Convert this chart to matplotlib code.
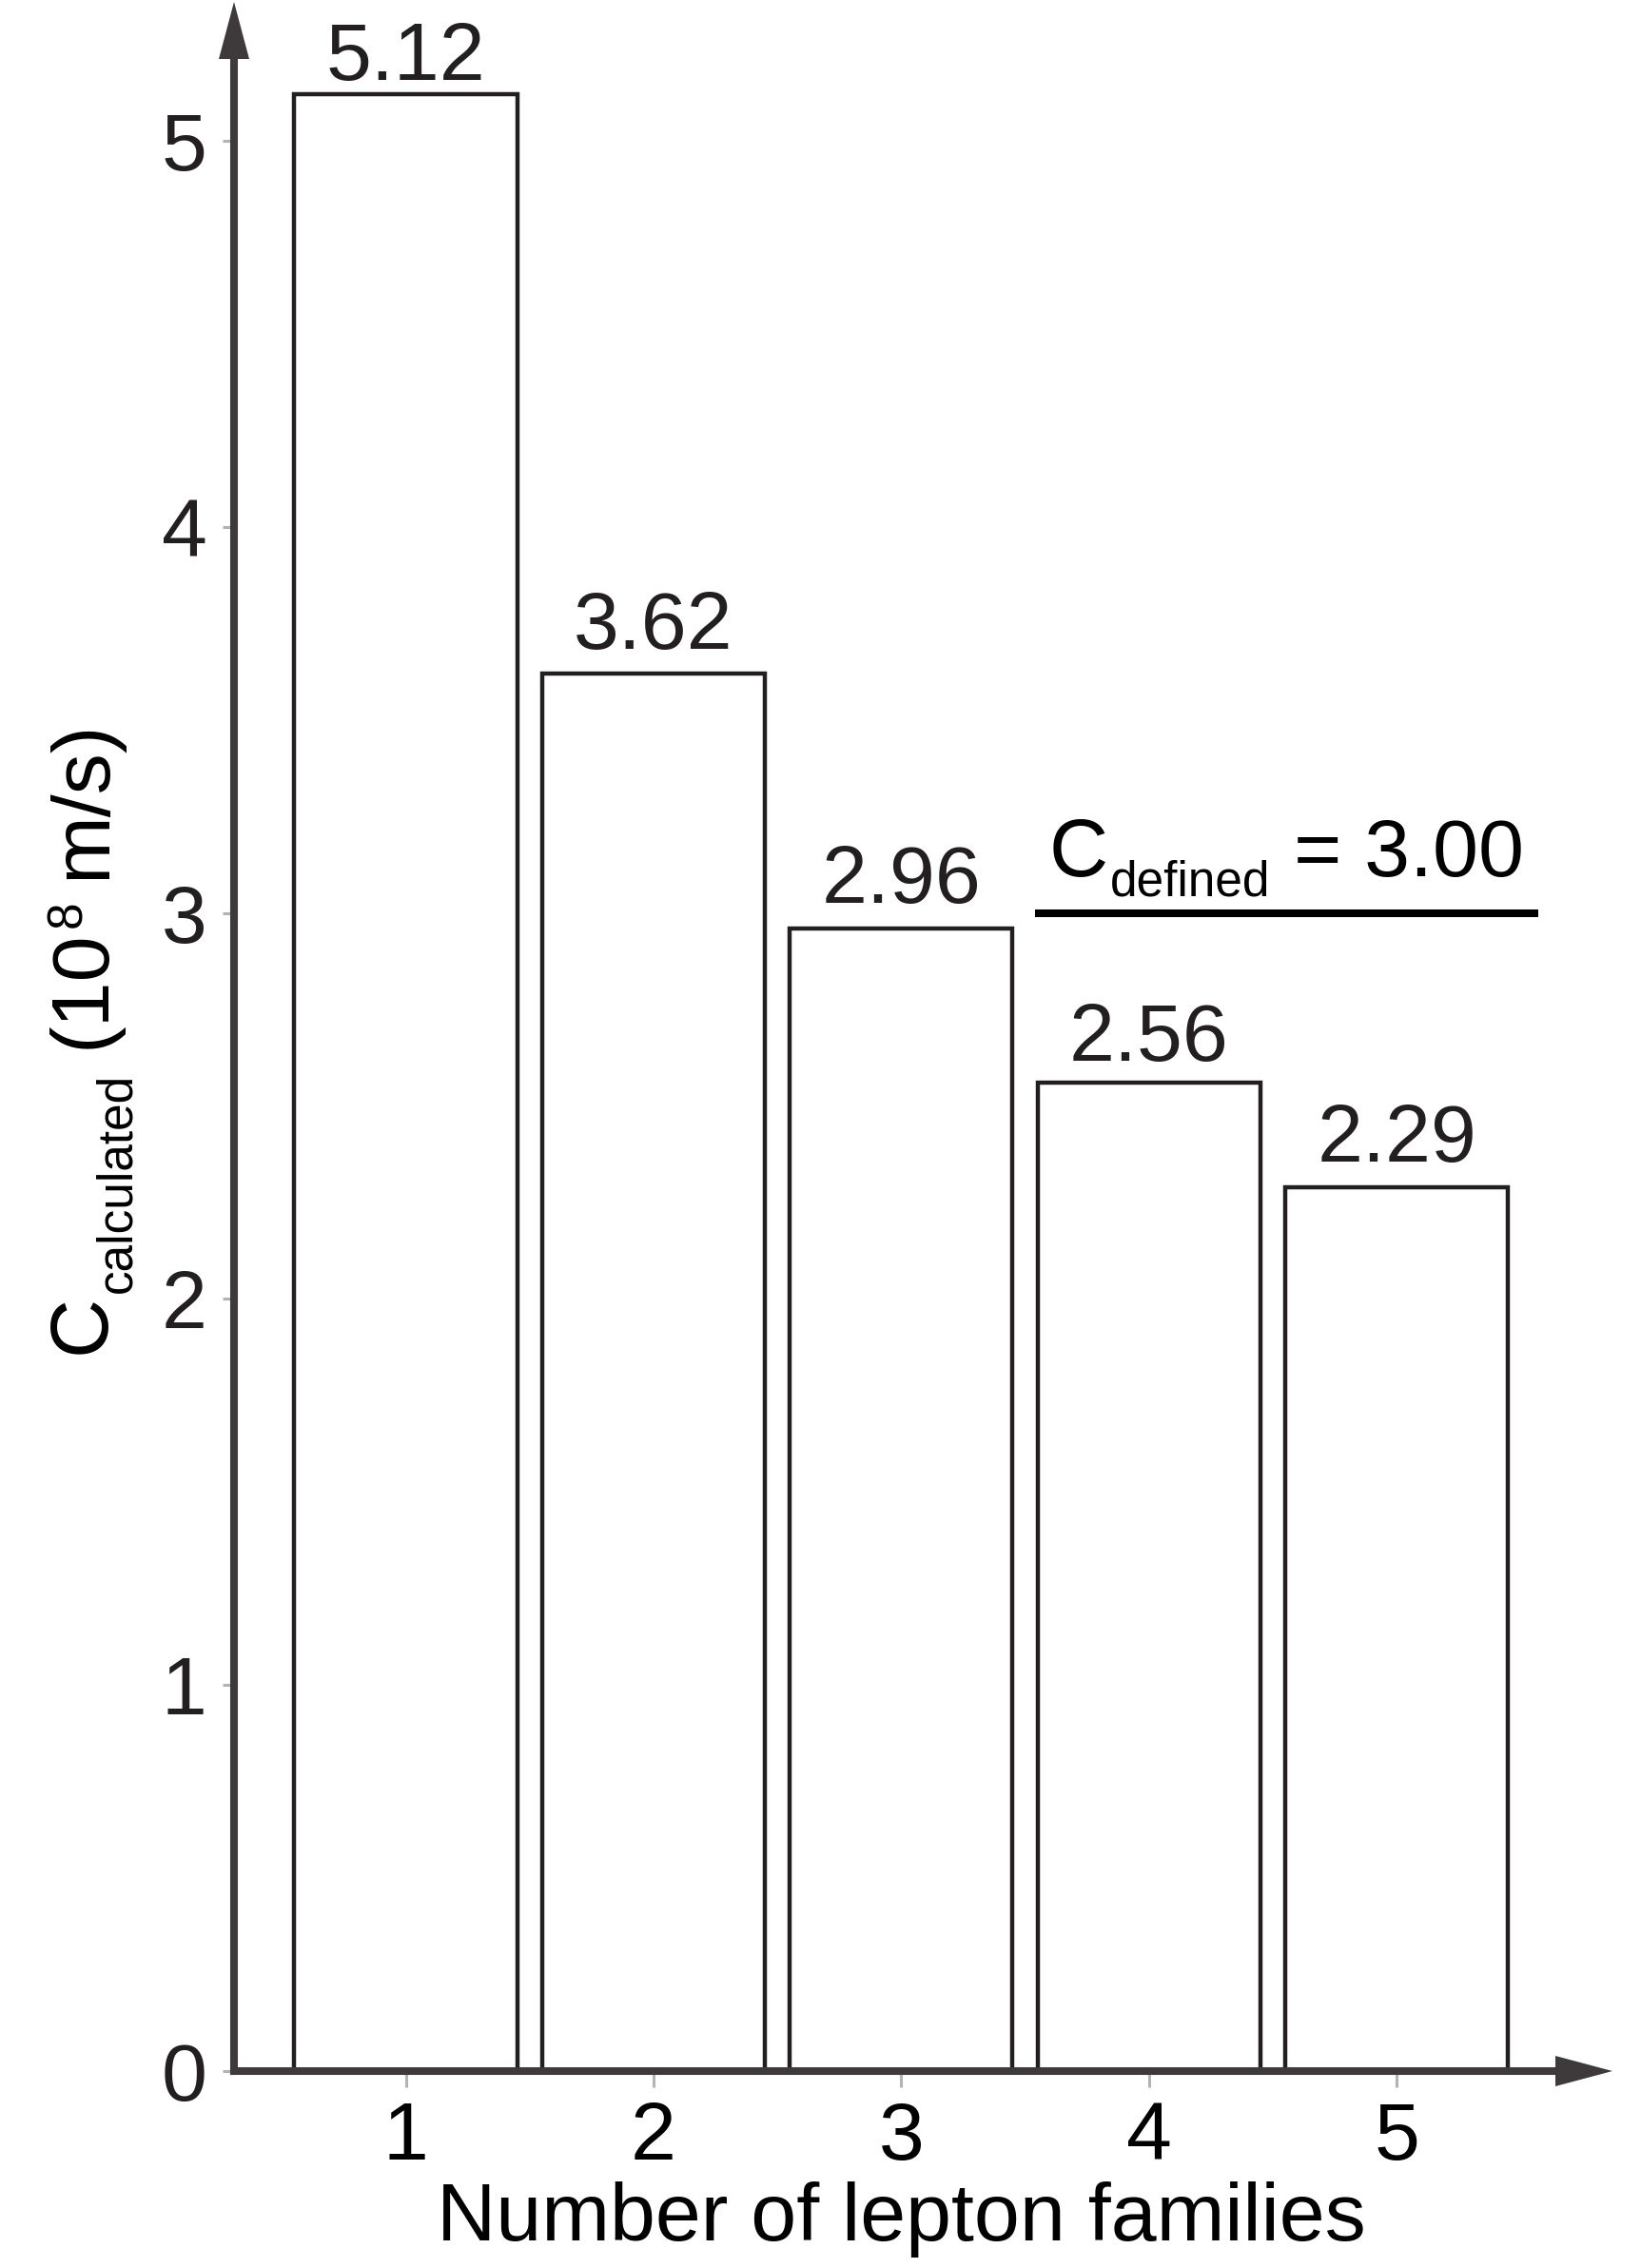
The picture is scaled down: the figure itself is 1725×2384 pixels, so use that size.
import matplotlib
matplotlib.use("Agg")
import matplotlib.pyplot as plt

# ---------------- data ----------------
families = [1, 2, 3, 4, 5]
c_calculated = [5.12, 3.62, 2.96, 2.56, 2.29]
c_defined = 3.00
y_ticks = [0, 1, 2, 3, 4, 5]
x_label = "Number of lepton families"

# ---------------- style ----------------
W, H, DPI = 1725, 2384, 100
FONT = "Liberation Sans"
MAIN = 62
SUB = 37
TXT = "#231f20"
AXC = "#3e3a3b"
TICKC = "#b3b3b3"
label_offsets_pt = [11, 19, 19, 17, 19]
defined_line_x = (3.54, 5.57)

plt.rcParams["font.family"] = [FONT, "DejaVu Sans"]

fig = plt.figure(figsize=(W / DPI, H / DPI), dpi=DPI)
ax_left, ax_right, ax_top, ax_bottom = 246, 1635, 62, 2177  # pixels from top-left
ax = fig.add_axes([ax_left / W, 1 - ax_bottom / H,
                   (ax_right - ax_left) / W, (ax_bottom - ax_top) / H])
ax.set_xlim(0.3068, 5.641)
ax.set_ylim(0, 5.212)

ax.bar(families, c_calculated, width=0.9, facecolor="white",
       edgecolor=TXT, linewidth=3.2, zorder=2)

for x, v, off in zip(families, c_calculated, label_offsets_pt):
    ax.annotate(f"{v:.2f}", (x, v), xytext=(0, off), textcoords="offset points",
                ha="center", va="baseline", fontsize=MAIN, color=TXT)

# defined line
ax.plot(defined_line_x, [c_defined, c_defined], color="black", lw=5.8,
        solid_capstyle="butt", zorder=3)

# spines
for s in ["top", "right"]:
    ax.spines[s].set_visible(False)
for s in ["left", "bottom"]:
    ax.spines[s].set_color(AXC)
    ax.spines[s].set_linewidth(5.8)
    ax.spines[s].set_capstyle("projecting")
    ax.spines[s].set_zorder(4)

ax.set_xticks(families)
ax.set_xticklabels([str(f) for f in families])
ax.set_yticks(y_ticks)
ax.set_yticklabels([str(t) for t in y_ticks])
ax.tick_params(axis="x", length=12, width=2.2, color=TICKC, pad=10,
               labelsize=MAIN, labelcolor="black")
ax.tick_params(axis="y", length=8.6, width=2.2, color=TICKC, pad=12,
               labelsize=MAIN, labelcolor=TXT)

# arrow heads
ax_w = ax_right - ax_left
ax_h = ax_bottom - ax_top
head_len_px = 60
head_hw_px = 16
px2pt = 72 / DPI
for xy in [(0, 1 + head_len_px / ax_h), (1 + head_len_px / ax_w, 0)]:
    base = (0, 1) if xy[0] == 0 else (1, 0)
    ax.annotate("", xy=xy, xytext=base,
                xycoords="axes fraction", textcoords="axes fraction",
                arrowprops=dict(arrowstyle=f"-|>,head_length={head_len_px*px2pt},head_width={head_hw_px*px2pt}",
                                mutation_scale=1, lw=0, color=AXC, shrinkA=0, shrinkB=0),
                annotation_clip=False)

# x label
fig.text(947 / W, 1 - 2355 / H, x_label, ha="center", va="baseline",
         fontsize=MAIN, color="black")

# ---------------- composed labels with sub/superscripts ----------------
fig.canvas.draw()
renderer = fig.canvas.get_renderer()


def measure(s, fs):
    t = fig.text(0, 0, s, fontsize=fs)
    bb = t.get_window_extent(renderer)
    t.remove()
    return bb.width


def compose(pieces, cx, cy, vertical=False, color="black"):
    """pieces: (text, size, baseline shift px (+ = up), gap px after).
    cx, cy: pixel position (origin bottom-left) of the centre along the text
    direction and of the main baseline."""
    widths = [measure(p[0], p[1]) for p in pieces]
    total = sum(widths) + sum(p[3] for p in pieces)
    pos = -total / 2
    for (s, fs, shift, gap), w in zip(pieces, widths):
        if vertical:
            x = cx - shift
            y = cy + pos
            fig.text(x / W, y / H, s, fontsize=fs, rotation=90,
                     rotation_mode="anchor", ha="left", va="baseline", color=color)
        else:
            fig.text((cx + pos) / W, (cy + shift) / H, s, fontsize=fs,
                     ha="left", va="baseline", color=color)
        pos += w + gap


# C_defined = 3.00 label, centred above the defined line
xc_pix, yline_pix = ax.transData.transform((sum(defined_line_x) / 2, c_defined))
compose([("C", MAIN, 0, 2), ("defined", SUB, -21, 24), ("= 3.00", MAIN, 0, 0)],
        xc_pix, yline_pix + 39, vertical=False, color="black")

# y label
compose([("C", MAIN, 0, 2), ("calculated", SUB, -27, 26), ("(10", MAIN, 0, 2),
         ("8", SUB, 25, 22), ("m/s)", MAIN, 0, 0)],
        110, H - 1090, vertical=True, color="black")

fig.savefig("out.png", dpi=DPI)
